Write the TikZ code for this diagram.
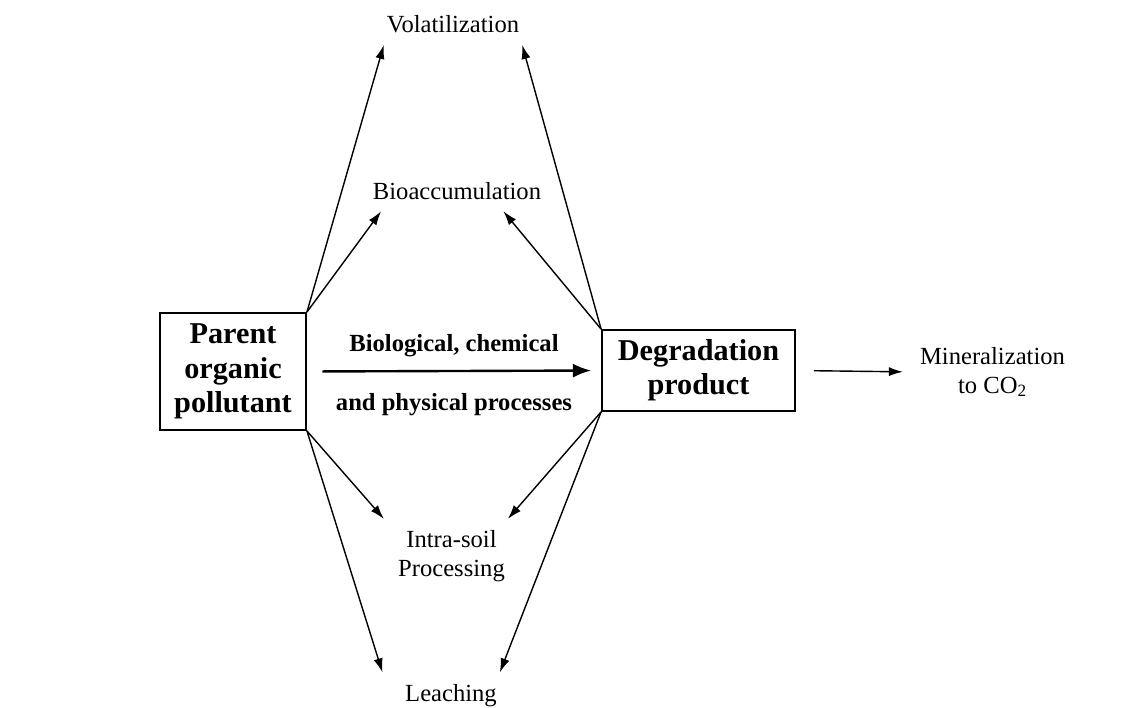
\documentclass[tikz,border=0pt]{standalone}
\usepackage{fontspec}
\setmainfont{Liberation Serif}
\usetikzlibrary{arrows.meta}

\def \labelFont {\fontsize{17.5}{20.5}\selectfont}
\def \boxFont {\fontsize{21.5}{24.5}\selectfont\bfseries}
\def \procFont {\fontsize{17.5}{20.5}\selectfont\bfseries}

\begin{document}
\begin{tikzpicture}[x=0.025cm, y=-0.025cm,
    pbox/.style={draw, line width=1.3pt, align=center, font=\boxFont, inner sep=0pt},
    fate/.style={font=\labelFont, align=center, inner xsep=2pt, inner ysep=8pt},
    proc/.style={font=\procFont, inner sep=0pt},
    flow/.style={-{Latex[length=10pt,width=6.5pt]}, line width=1pt}]
  \useasboundingbox (0,0) rectangle (1135,708);
  % the two compounds
  \node[pbox, minimum width=3.65cm, minimum height=2.925cm] (parent) at (233,371.5) {Parent\\organic\\pollutant};
  \node[pbox, minimum width=4.825cm, minimum height=2.025cm] (degr) at (698.5,370.5) {Degradation\\product};
  % where they go
  \node[fate, anchor=base] (volat) at (453,33) {Volatilization};
  \node[fate, anchor=base] (bioacc) at (457,199.5) {Bioaccumulation};
  \node[fate] (intra) at (451.5,556) {Intra-soil\\Processing};
  \node[fate, anchor=base] (leach) at (451,701) {Leaching};
  \node[fate] (miner) at (992.5,372) {Mineralization\\to CO\textsubscript{2}};

  \draw[flow, line width=1.7pt, -{Latex[length=13pt,width=10pt]}, shorten <=11pt, shorten >=7pt] (parent.east) -- (degr.west)
      node[proc, midway, above=9.5pt] (procA) {Biological, chemical}
      node[proc, midway, below=15pt] (procB) {and physical processes};
  \draw[flow, shorten <=12.8pt, shorten >=10pt] (degr.east) -- (miner.west);

  \draw[flow] (parent.north east) -- (volat.south west);
  \draw[flow] (parent.north east) -- ([xshift=8pt]bioacc.south west);
  \draw[flow] (parent.south east) -- ([xshift=-8pt]intra.north west);
  \draw[flow] (parent.south east) -- ([xshift=-14pt]leach.north west);

  \draw[flow] (degr.north west) -- (volat.south east);
  \draw[flow] (degr.north west) -- ([xshift=-29pt]bioacc.south east);
  \draw[flow] (degr.south west) -- (intra.north east);
  \draw[flow] (degr.south west) -- (leach.north east);
\end{tikzpicture}
\end{document}
